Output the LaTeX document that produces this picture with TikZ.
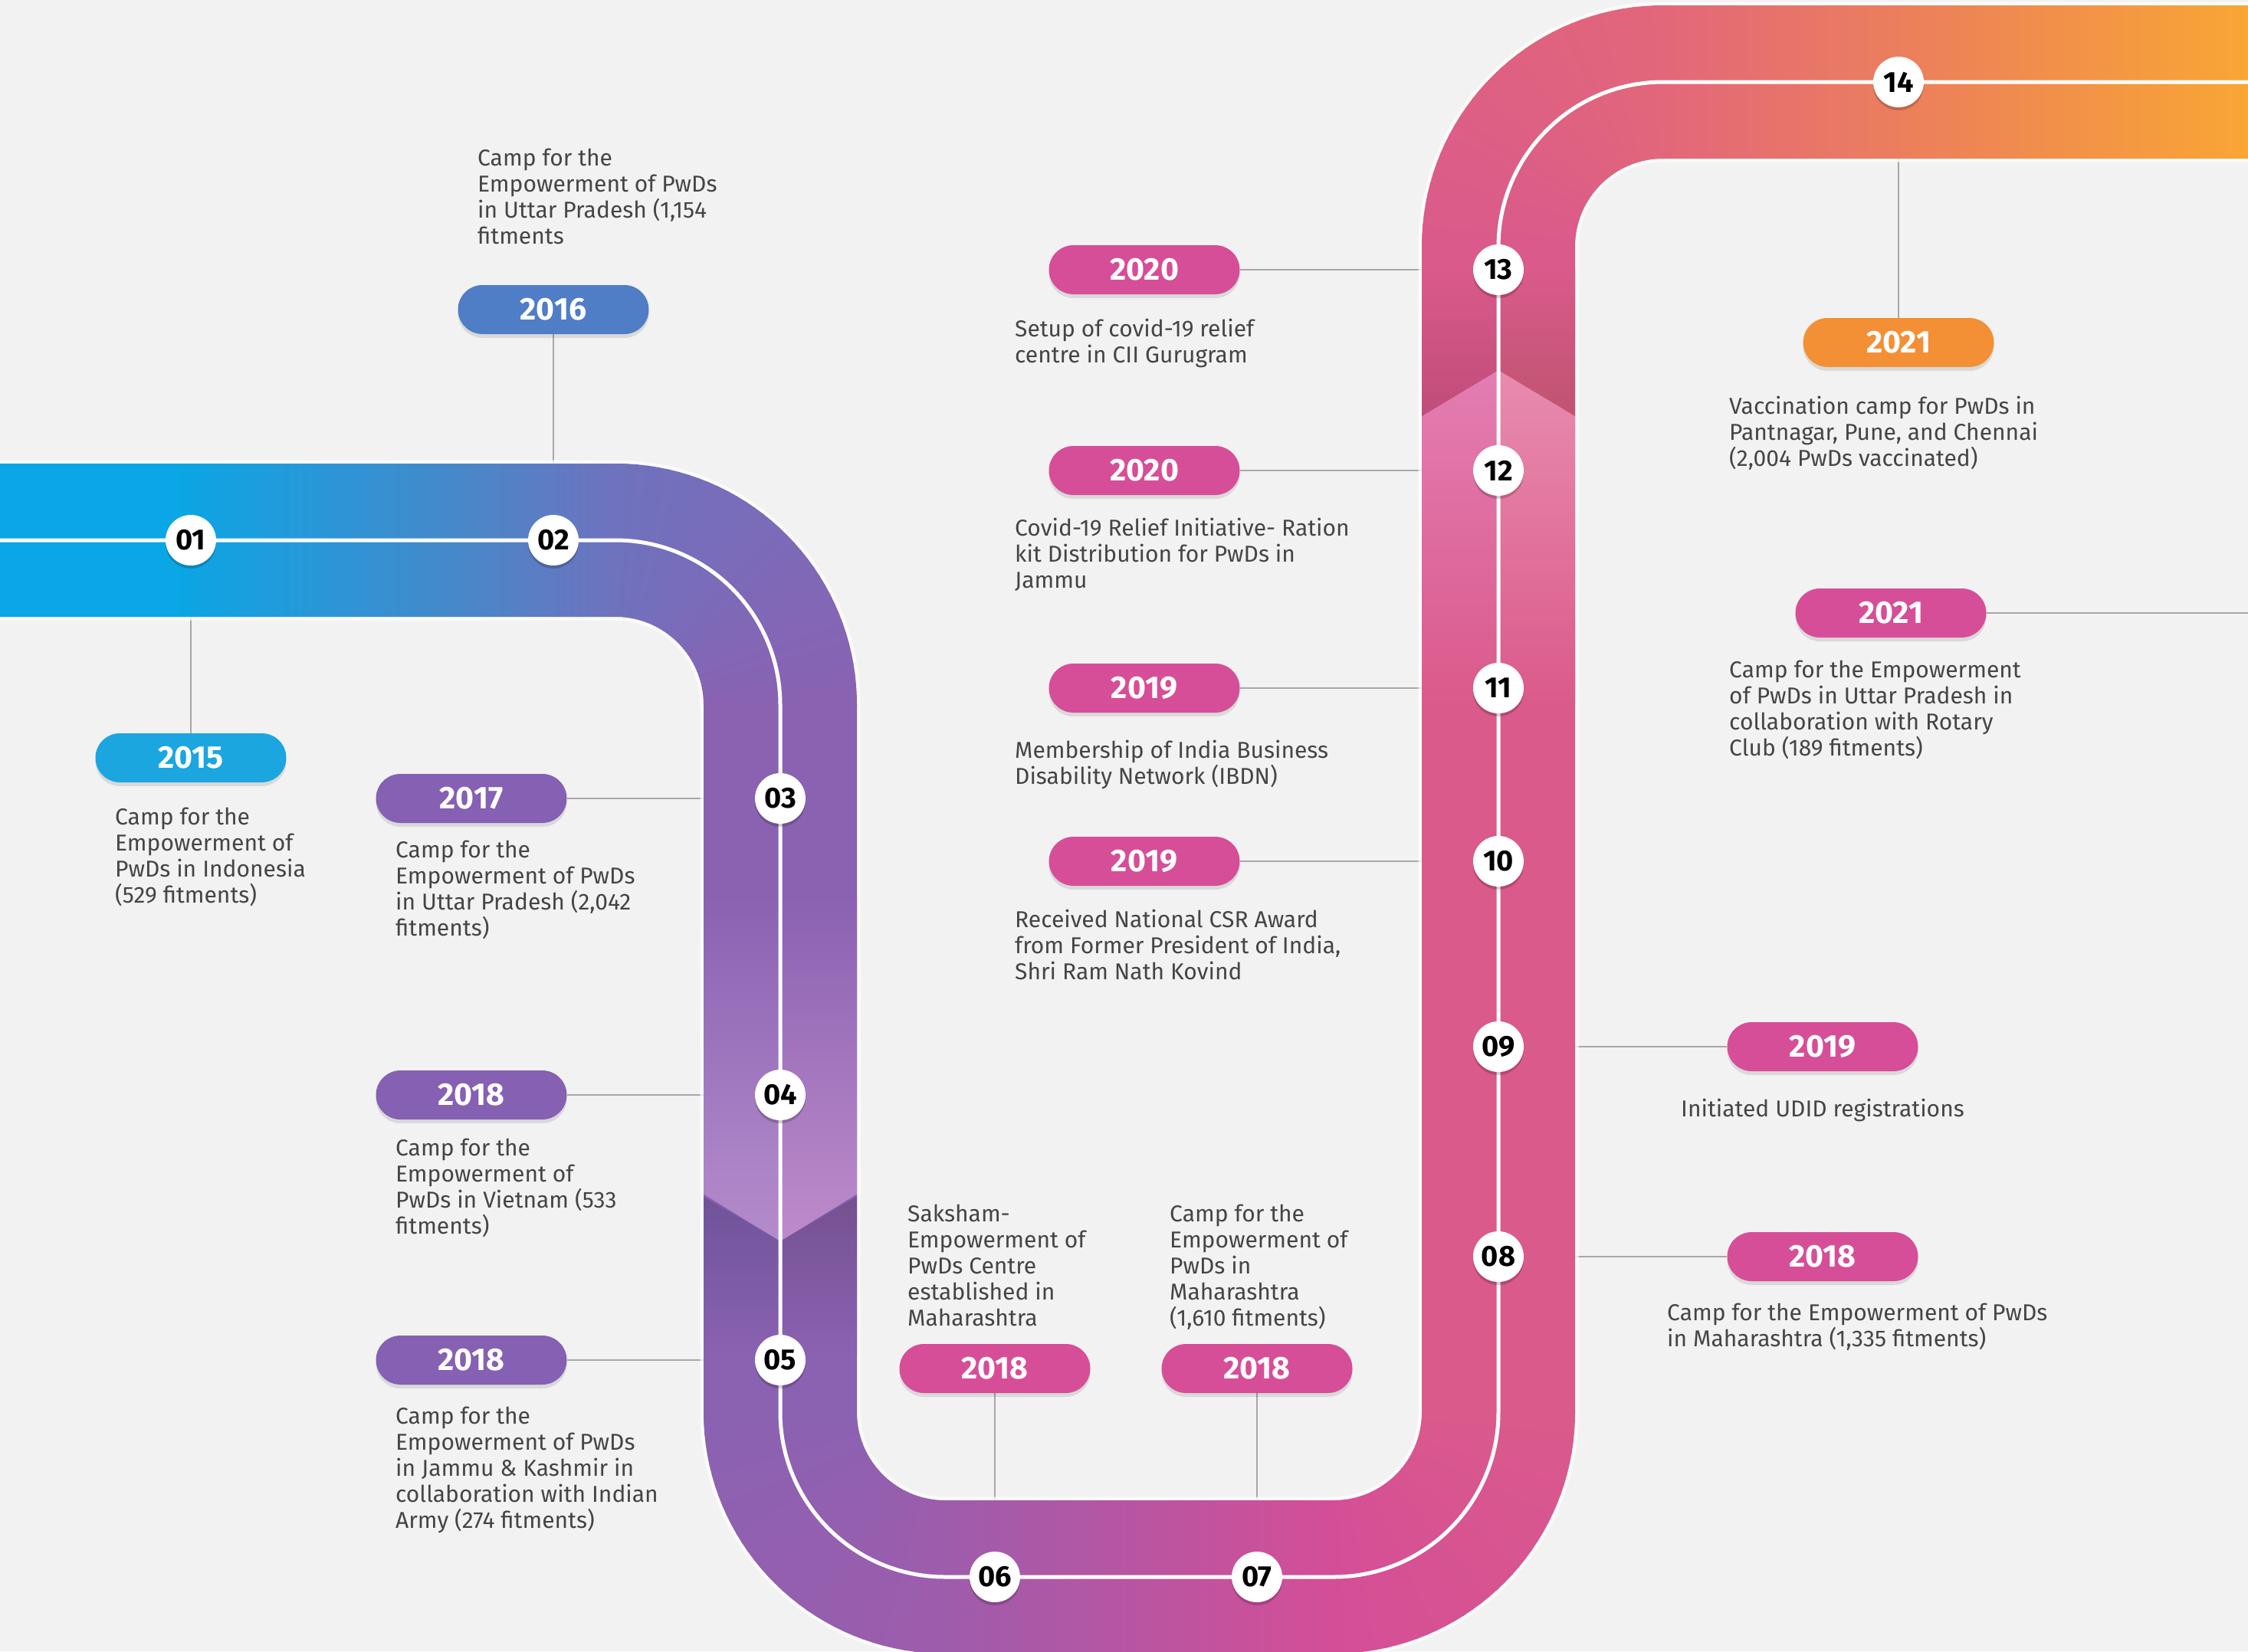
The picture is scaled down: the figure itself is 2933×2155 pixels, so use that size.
\documentclass[tikz,border=0pt]{standalone}
\usepackage{fontspec}
\setmainfont{Fira Sans}
\usetikzlibrary{shadows}
\definecolor{bgc}{HTML}{F2F2F2}
\definecolor{txt}{HTML}{454545}
\definecolor{lng}{HTML}{A8A8A8}
\definecolor{cA}{HTML}{0AA6E5}
\definecolor{cB}{HTML}{4B86C8}
\definecolor{cC}{HTML}{6F72BE}
\definecolor{cD}{HTML}{8A62B2}
\definecolor{cE}{HTML}{9E5CAC}
\definecolor{cF}{HTML}{D44E97}
\definecolor{cGm}{HTML}{DA5A8B}
\definecolor{cH}{HTML}{E2677A}
\definecolor{cI}{HTML}{EE8555}
\definecolor{cJ}{HTML}{F9A733}
\definecolor{lvL}{HTML}{B48CCC}
\definecolor{lvR}{HTML}{BE8BCA}
\definecolor{dvL}{HTML}{6F5399}
\definecolor{dvR}{HTML}{745190}
\definecolor{rlL}{HTML}{E37DB2}
\definecolor{rlR}{HTML}{E88BAE}
\definecolor{rdL}{HTML}{BF4C7A}
\definecolor{rdR}{HTML}{BE5470}
\definecolor{pcyan}{HTML}{1BA6E0}
\definecolor{pblue}{HTML}{4F7DC6}
\definecolor{ppurp}{HTML}{8660B2}
\definecolor{ppink}{HTML}{D64E98}
\definecolor{porange}{HTML}{F39035}
\pgfdeclarelayer{lines}
\pgfdeclarelayer{band}
\pgfsetlayers{lines,band,main}
\newcommand{\descfont}{\fontsize{30}{34}\selectfont}
\newcommand{\pillfont}{\bfseries\fontsize{41}{41}\selectfont}
\newcommand{\numfont}{\bfseries\fontsize{38}{38}\selectfont}
\newcommand{\bandshape}[1]{\path[#1] (0,605) -- (803,605) arc[start angle=-90,end angle=0,radius=315]
  -- (1118,1843) arc[start angle=180,end angle=90,radius=115]
  -- (1740,1958) arc[start angle=90,end angle=0,radius=115]
  -- (1855,322) arc[start angle=180,end angle=270,radius=315]
  -- (2940,7) -- (2940,207) -- (2170,207) arc[start angle=270,end angle=180,radius=115]
  -- (2055,1843) arc[start angle=0,end angle=90,radius=315]
  -- (1233,2158) arc[start angle=90,end angle=180,radius=315]
  -- (918,920) arc[start angle=0,end angle=-90,radius=115]
  -- (-5,805) -- (-5,605) -- cycle;}
\newcommand{\cornerfill}[5]{%
  \foreach \i in {0,...,35}{%
    \pgfmathsetmacro\aa{#2+(#3-#2)*\i/36}%
    \pgfmathsetmacro\ab{#2+(#3-#2)*(\i+1.2)/36}%
    \pgfmathtruncatemacro\pp{100*(\i+0.5)/36}%
    \colorlet{wc}{#5!\pp!#4}%
    \fill[wc] (#1) -- ++(\aa:430) arc[start angle=\aa, end angle=\ab, radius=430] -- cycle;
  }}
\tikzset{
  pill/.style={rounded corners=32pt, minimum width=249pt, minimum height=64pt, inner sep=0pt,
    text=white, font=\pillfont, drop shadow={shadow xshift=0pt, shadow yshift=-5pt, opacity=0.10, fill=black}},
  num/.style={circle, fill=white, minimum size=66pt, inner sep=0pt, font=\numfont, text=black,
    drop shadow={shadow xshift=0pt, shadow yshift=-4pt, opacity=0.18, fill=black}},
  desc/.style={anchor=north west, align=left, inner sep=0pt, text=txt, font=\descfont},
  conn/.style={draw=lng, line width=2.5pt},
}
\begin{document}
\begin{tikzpicture}[x=1pt,y=-1pt]
\useasboundingbox (0,0) rectangle (2933,2155);
\begin{pgfonlayer}{lines}
\fill[bgc] (0,0) rectangle (2933,2155);
\end{pgfonlayer}
\coordinate (C1) at (803,920);
\coordinate (C2) at (1233,1843);
\coordinate (C3) at (1740,1843);
\coordinate (C4) at (2170,322);

% number markers
\node[num] (n01) at (249,705) {01};
\node[num] (n02) at (722,705) {02};
\node[num] (n03) at (1018,1042) {03};
\node[num] (n04) at (1018,1429) {04};
\node[num] (n05) at (1018,1775) {05};
\node[num] (n06) at (1298,2058) {06};
\node[num] (n07) at (1640,2058) {07};
\node[num] (n08) at (1955,1640) {08};
\node[num] (n09) at (1955,1366) {09};
\node[num] (n10) at (1955,1124) {10};
\node[num] (n11) at (1955,898) {11};
\node[num] (n12) at (1955,614) {12};
\node[num] (n13) at (1955,352) {13};
\node[num] (n14) at (2477,107) {14};

% year pills
\node[pill, fill=pcyan] (p15) at (249,989) {2015};
\node[pill, fill=pblue] (p16) at (722,404) {2016};
\node[pill, fill=ppurp] (p17) at (615,1042) {2017};
\node[pill, fill=ppurp] (p18a) at (615,1429) {2018};
\node[pill, fill=ppurp] (p18b) at (615,1775) {2018};
\node[pill, fill=ppink] (p18c) at (1298,1786) {2018};
\node[pill, fill=ppink] (p18d) at (1640,1786) {2018};
\node[pill, fill=ppink] (p19a) at (1493,1124) {2019};
\node[pill, fill=ppink] (p19b) at (1493,898) {2019};
\node[pill, fill=ppink] (p20a) at (1493,614) {2020};
\node[pill, fill=ppink] (p20b) at (1493,352) {2020};
\node[pill, fill=porange] (p21a) at (2477,447) {2021};
\node[pill, fill=ppink] (p21b) at (2467,800) {2021};
\node[pill, fill=ppink] (p19c) at (2378,1366) {2019};
\node[pill, fill=ppink] (p18e) at (2378,1640) {2018};
\coordinate (e21) at (2933,800);

% descriptions
\node[desc] (t16) at (623,194) {Camp for the\\Empowerment of PwDs\\in Uttar Pradesh (1,154\\fitments};
\node[desc] (t15) at (150,1054) {Camp for the\\Empowerment of\\PwDs in Indonesia\\(529 fitments)};
\node[desc] (t17) at (516,1097) {Camp for the\\Empowerment of PwDs\\in Uttar Pradesh (2,042\\fitments)};
\node[desc] (t18a) at (516,1486) {Camp for the\\Empowerment of\\PwDs in Vietnam (533\\fitments)};
\node[desc] (t18b) at (516,1836) {Camp for the\\Empowerment of PwDs\\in Jammu \& Kashmir in\\collaboration with Indian\\Army (274 fitments)};
\node[desc] (t18c) at (1184,1572) {Saksham-\\Empowerment of\\PwDs Centre\\established in\\Maharashtra};
\node[desc] (t18d) at (1526,1572) {Camp for the\\Empowerment of\\PwDs in\\Maharashtra\\(1,610 fitments)};
\node[desc] (t20b) at (1324,416) {Setup of covid-19 relief\\centre in CII Gurugram};
\node[desc] (t20a) at (1324,676) {Covid-19 Relief Initiative- Ration\\kit Distribution for PwDs in\\Jammu};
\node[desc] (t19b) at (1324,966) {Membership of India Business\\Disability Network (IBDN)};
\node[desc] (t19a) at (1324,1187) {Received National CSR Award\\from Former President of India,\\Shri Ram Nath Kovind};
\node[desc] (t21a) at (2256,517) {Vaccination camp for PwDs in\\Pantnagar, Pune, and Chennai\\(2,004 PwDs vaccinated)};
\node[desc] (t21b) at (2256,862) {Camp for the Empowerment\\of PwDs in Uttar Pradesh in\\collaboration with Rotary\\Club (189 fitments)};
\node[desc, anchor=north] (t19c) at (2378,1434) {Initiated UDID registrations};
\node[desc] (t18e) at (2175,1701) {Camp for the Empowerment of PwDs\\in Maharashtra (1,335 fitments)};

% connectors
\begin{pgfonlayer}{lines}
\draw[conn] (n01) -- (p15);
\draw[conn] (n02) -- (p16);
\draw[conn] (p17) -- (n03);
\draw[conn] (p18a) -- (n04);
\draw[conn] (p18b) -- (n05);
\draw[conn] (p18c) -- (n06);
\draw[conn] (p18d) -- (n07);
\draw[conn] (p19a) -- (n10);
\draw[conn] (p19b) -- (n11);
\draw[conn] (p20a) -- (n12);
\draw[conn] (p20b) -- (n13);
\draw[conn] (p21a) -- (n14);
\draw[conn] (p21b) -- (e21);
\draw[conn] (n09) -- (p19c);
\draw[conn] (n08) -- (p18e);
\end{pgfonlayer}

% the band
\begin{pgfonlayer}{band}
\bandshape{draw=white, line width=9pt, opacity=0.75}
\begin{scope}
\bandshape{clip}
% left horizontal
\fill[cA] (-10,590) rectangle (230,820);
\shade[left color=cA, right color=cB] (229,590) rectangle (621,820);
\shade[left color=cB, right color=cC] (620,590) rectangle (803.5,820);
\cornerfill{C1}{-90}{0}{cC}{cD}
% left vertical
\fill[cD] (900,919) rectangle (1130,1844);
% chevron on left vertical
\shade[top color=cD, bottom color=lvL] (916,1170) -- (1018,1170) -- (1018,1620) -- (916,1557) -- cycle;
\shade[top color=cD, bottom color=lvR] (1018,1170) -- (1120,1170) -- (1120,1557) -- (1018,1620) -- cycle;
\shade[top color=dvL, bottom color=cD] (910,1557) -- (1018,1620) -- (1018,1770) -- (910,1770) -- cycle;
\shade[top color=dvR, bottom color=cD] (1018,1620) -- (1125,1557) -- (1125,1770) -- (1018,1770) -- cycle;
\cornerfill{C2}{180}{90}{cD}{cE}
% bottom horizontal
\shade[left color=cE, right color=cF] (1232.5,1940) rectangle (1740.5,2170);
\cornerfill{C3}{90}{0}{cF}{cGm}
% right vertical
\fill[cGm] (1845,321.5) rectangle (2065,1843.5);
% chevron on right vertical
\shade[top color=rlL, bottom color=cGm] (1845,549) -- (1955,483) -- (1955,920) -- (1845,920) -- cycle;
\shade[top color=rlR, bottom color=cGm] (1955,483) -- (2065,549) -- (2065,920) -- (1955,920) -- cycle;
\shade[top color=cGm, bottom color=rdL] (1845,350) -- (1955,350) -- (1955,483) -- (1845,549) -- cycle;
\shade[top color=cGm, bottom color=rdR] (1955,350) -- (2065,350) -- (2065,549) -- (1955,483) -- cycle;
\cornerfill{C4}{180}{270}{cGm}{cH}
% top horizontal
\shade[left color=cH, right color=cI] (2169.5,0) rectangle (2561,215);
\shade[left color=cI, right color=cJ] (2560,0) rectangle (2945,215);
\end{scope}
\draw[white, line width=5pt] (-5,705) -- (803,705) arc[start angle=-90,end angle=0,radius=215]
  -- (1018,1843) arc[start angle=180,end angle=90,radius=215]
  -- (1740,2058) arc[start angle=90,end angle=0,radius=215]
  -- (1955,322) arc[start angle=180,end angle=270,radius=215]
  -- (2940,107);
\end{pgfonlayer}
\end{tikzpicture}
\end{document}
